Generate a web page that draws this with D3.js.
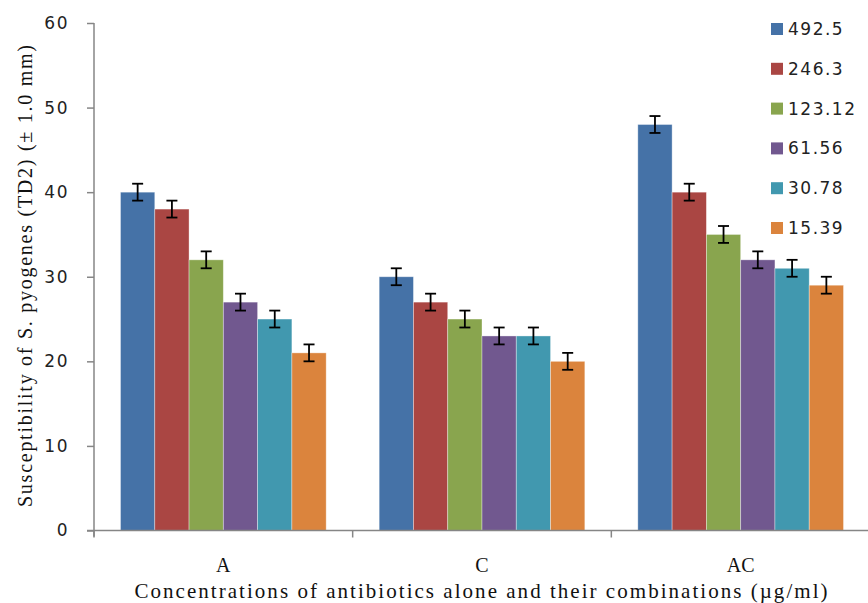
<!DOCTYPE html>
<html><head><meta charset="utf-8">
<script src="https://cdn.jsdelivr.net/npm/d3@7"></script>
<style>body{margin:0;background:#fff;}svg{display:block;}</style>
</head><body>
<svg id="chart" width="868" height="603"></svg>
<script>
const categories = ["A", "C", "AC"];
const seriesNames = ["492.5", "246.3", "123.12", "61.56", "30.78", "15.39"];
const colors = ["#4572A7", "#AA4643", "#89A54E", "#71588F", "#4198AF", "#DB843D"];
const valuesA = [40, 38, 32, 27, 25, 21];
const valuesC = [30, 27, 25, 23, 23, 20];
const valuesAC = [48, 40, 35, 32, 31, 29];
const errorAmount = 1;
const yTicks = [0, 10, 20, 30, 40, 50, 60];
const yTitle = "Susceptibility of S. pyogenes (TD2) (± 1.0 mm)";
const xTitle = "Concentrations of antibiotics alone and their combinations (µg/ml)";

const groupValues = [valuesA, valuesC, valuesAC];
const data = categories.map((c, i) => ({cat: c, vals: groupValues[i].map((v, j) => ({s: seriesNames[j], v, j}))}));

const svg = d3.select("#chart");
const pLeft = 94, pRight = 870, pTop = 23, pBottom = 530.5;

const x0 = d3.scaleBand().domain(categories).range([pLeft, pRight]).paddingInner(0).paddingOuter(0);
const x1 = d3.scaleBand().domain(seriesNames).range([26.5, x0.bandwidth() - 26.5]).padding(0);
const y = d3.scaleLinear().domain([0, 60]).range([pBottom, pTop]);

const axisColor = "#868686";
const sansFont = "'DejaVu Sans', Verdana, sans-serif";
const serifFont = "'Liberation Serif', 'Times New Roman', serif";

// bars
const g = svg.append("g");
const groups = g.selectAll("g.grp").data(data).join("g")
  .attr("transform", d => `translate(${x0(d.cat)},0)`);
groups.selectAll("rect").data(d => d.vals).join("rect")
  .attr("x", d => x1(d.s))
  .attr("y", d => y(d.v))
  .attr("width", x1.bandwidth())
  .attr("height", d => y(0) - y(d.v))
  .attr("fill", d => colors[d.j])
  .attr("stroke", "#fff").attr("stroke-opacity", 0.45).attr("stroke-width", 0.8);

// error bars
const eb = groups.selectAll("g.eb").data(d => d.vals).join("g")
  .attr("stroke", "#000").attr("stroke-width", 1.8);
eb.append("line")
  .attr("x1", d => x1(d.s) + x1.bandwidth() / 2).attr("x2", d => x1(d.s) + x1.bandwidth() / 2)
  .attr("y1", d => y(d.v + errorAmount)).attr("y2", d => y(d.v - errorAmount));
[1, -1].forEach(sgn => {
  eb.append("line")
    .attr("x1", d => x1(d.s) + x1.bandwidth() / 2 - 5.5).attr("x2", d => x1(d.s) + x1.bandwidth() / 2 + 5.5)
    .attr("y1", d => y(d.v + sgn * errorAmount)).attr("y2", d => y(d.v + sgn * errorAmount));
});

// y axis
const yAxis = svg.append("g").attr("transform", `translate(${pLeft},0)`)
  .call(d3.axisLeft(y).tickValues(yTicks).tickSize(7).tickPadding(18).tickFormat(d3.format("d")));
yAxis.select(".domain").attr("stroke", axisColor).attr("stroke-width", 1.5).attr("d", `M0,${pTop}V${pBottom + 6}`);
yAxis.selectAll(".tick line").attr("stroke", axisColor).attr("stroke-width", 1.5);
yAxis.selectAll(".tick text").attr("font-family", sansFont).attr("font-size", 17)
  .attr("letter-spacing", 1.5).attr("fill", "#222");

// x axis
const xAxis = svg.append("g").attr("transform", `translate(0,${pBottom})`)
  .call(d3.axisBottom(x0).tickSize(0).tickPadding(27));
xAxis.select(".domain").attr("stroke", axisColor).attr("stroke-width", 1.5).attr("d", `M${pLeft - 7},0H${pRight}`);
xAxis.selectAll(".tick text").attr("font-family", serifFont).attr("font-size", 20).attr("fill", "#111");
// category boundary ticks
const bounds = categories.map(c => x0(c)).concat([pRight]);
xAxis.selectAll("line.bnd").data(bounds).join("line").attr("class", "bnd")
  .attr("x1", d => d).attr("x2", d => d).attr("y1", 0).attr("y2", 7)
  .attr("stroke", axisColor).attr("stroke-width", 1.5);

// titles
svg.append("text").attr("transform", "translate(32,276) rotate(-90)")
  .attr("text-anchor", "middle").attr("font-family", serifFont).attr("font-size", 20)
  .attr("textLength", 462).attr("lengthAdjust", "spacing").attr("fill", "#111").text(yTitle);
svg.append("text").attr("x", 481).attr("y", 598)
  .attr("text-anchor", "middle").attr("font-family", serifFont).attr("font-size", 21)
  .attr("textLength", 693).attr("lengthAdjust", "spacing").attr("fill", "#111").text(xTitle);

// legend
const leg = svg.append("g").selectAll("g").data(seriesNames).join("g")
  .attr("transform", (d, i) => `translate(771,${29 + i * 39.8})`);
leg.append("rect").attr("x", 0).attr("y", -6).attr("width", 12).attr("height", 12)
  .attr("fill", (d, i) => colors[i]);
leg.append("text").attr("x", 17).attr("y", 0).attr("dy", "0.35em")
  .attr("font-family", sansFont).attr("font-size", 17).attr("letter-spacing", 1.5)
  .attr("fill", "#222").text(d => d);
</script>
</body></html>
